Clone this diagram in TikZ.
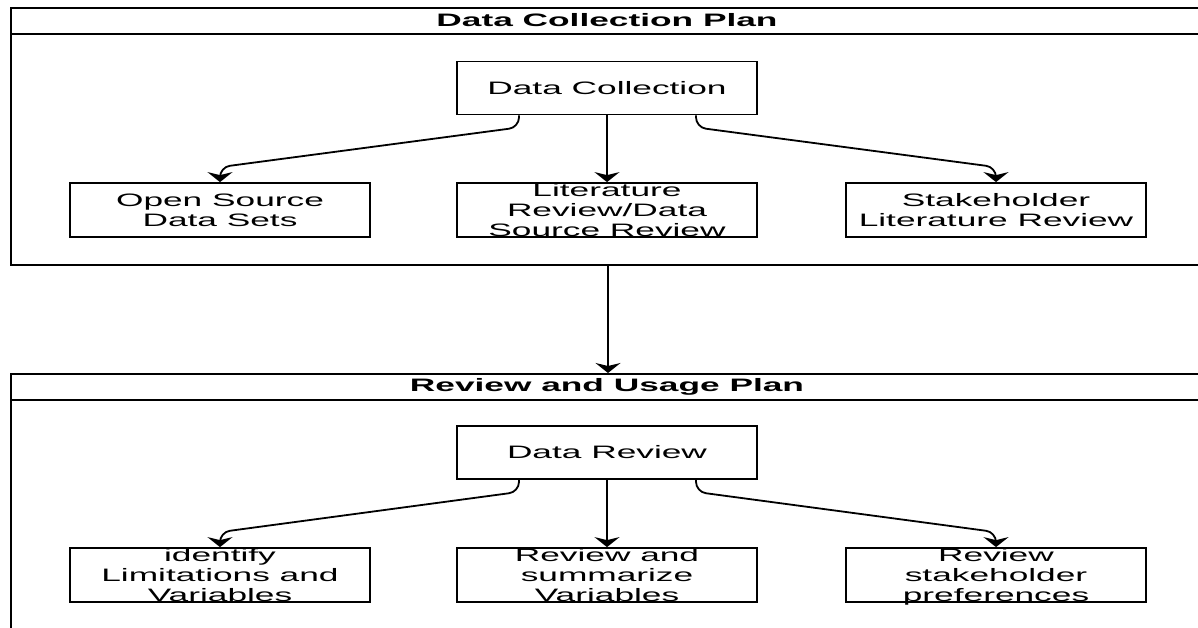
\documentclass[tikz,border=0pt]{standalone}
\usepackage{fontspec}
% wide sans face used throughout the chart
\setmainfont{Liberation Sans}[FakeStretch=1.96]
\usetikzlibrary{arrows.meta}
\begin{document}
\begin{tikzpicture}[x=1pt,y=-1pt,
  lane/.style={draw, line width=2pt, minimum width=1194pt, minimum height=257pt,
               inner sep=0pt, anchor=north west},
  headline/.style={line width=1.8pt},
  stepbox/.style={draw, line width=1.8pt, minimum width=300pt, minimum height=54pt, inner sep=0pt},
  headbox/.style={stepbox, minimum height=53pt, font=\fontsize{18}{19.5}\selectfont},
  txt/.style={align=center, inner sep=0pt, font=\fontsize{18}{19.8}\selectfont},
  ttl/.style={inner sep=0pt, font=\fontsize{18}{19.5}\selectfont\bfseries},
  tip/.style={-{Stealth[length=10pt,width=25pt,inset=3pt]}},
  conn/.style={line width=1.8pt, tip, rounded corners=10pt}]
\useasboundingbox (0,0) rectangle (1198,627);
\clip (0,0) rectangle (1198,627);

% ---------- Data Collection Plan ----------
\node[lane] (lane1) at (10,7) {};
\draw[headline] ([yshift=-27pt]lane1.north west) -- ([yshift=-27pt]lane1.north east);
\node[ttl] (title1) at (607,20.5) {Data Collection Plan};

\node[headbox] (dc) at (607,88) {Data Collection};
\node[stepbox] (open)  at (220,210) {};
\node[stepbox] (lit)   at (607,210) {};
\node[stepbox] (stake) at (996,210) {};
\node[txt] (openT)  at (open)  {Open Source\\Data Sets};
\node[txt] (litT)   at (lit)   {Literature\\Review/Data\\Source Review};
\node[txt] (stakeT) at (stake) {Stakeholder\\Literature Review};

\draw[conn] ([xshift=-88pt]dc.south) -- ++(0,-12pt) -- ([yshift=15pt]open.north) -- (open.north);
\draw[conn] (dc.south) -- (lit.north);
\draw[conn] ([xshift=89pt]dc.south) -- ++(0,-12pt) -- ([yshift=15pt]stake.north) -- (stake.north);

% ---------- Review and Usage Plan ----------
\node[lane] (lane2) at (10,373) {};
\draw[headline] ([yshift=-27pt]lane2.north west) -- ([yshift=-27pt]lane2.north east);
\node[ttl] (title2) at (607,386.5) {Review and Usage Plan};

\node[headbox] (dr) at (607,452.5) {Data Review};
\node[stepbox] (lim)  at (220,575) {};
\node[stepbox] (summ) at (607,575) {};
\node[stepbox] (pref) at (996,575) {};
\node[txt] (limT)  at (lim)  {identify\\Limitations and\\Variables};
\node[txt] (summT) at (summ) {Review and\\summarize\\Variables};
\node[txt] (prefT) at ([yshift=-2pt]pref.center) {Review\\stakeholder\\preferences};

\draw[conn] ([xshift=-88pt]dr.south) -- ++(0,-12pt) -- ([yshift=15pt]lim.north) -- (lim.north);
\draw[conn] (dr.south) -- (summ.north);
\draw[conn] ([xshift=89pt]dr.south) -- ++(0,-12pt) -- ([yshift=15pt]pref.north) -- (pref.north);

% ---------- hand-over between the two plans ----------
\draw[conn, line width=2pt] (lane1.south) -- (lane2.north);
\end{tikzpicture}
\end{document}
